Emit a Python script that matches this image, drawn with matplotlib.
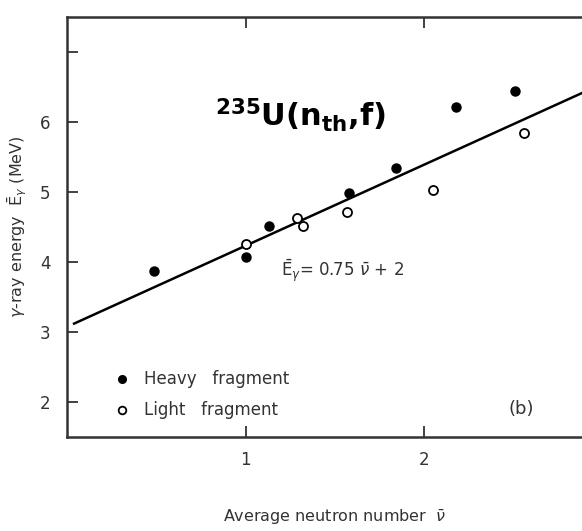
import matplotlib.pyplot as plt

# heavy fragments (filled) and light fragments (open)
heavy_nu = [0.49, 1.00, 1.13, 1.58, 1.84, 2.18, 2.51]
heavy_e = [3.87, 4.07, 4.51, 4.99, 5.34, 6.21, 6.44]
light_nu = [1.00, 1.29, 1.32, 1.57, 2.05, 2.56]
light_e = [4.26, 4.63, 4.51, 4.71, 5.03, 5.84]

# fitted line as drawn
fit_nu = [0.04, 3.0]
fit_e = [3.12, 6.55]

yticks = [2, 3, 4, 5, 6]

fig = plt.figure(figsize=(5.82, 5.31), dpi=100)
ax = fig.add_axes([0.115, 0.177, 0.921, 0.791])

ax.plot(fit_nu, fit_e, color='black', lw=1.8)
ax.plot(heavy_nu, heavy_e, 'o', color='black', ms=6.5)
ax.plot(light_nu, light_e, 'o', mfc='white', mec='black', mew=1.3, ms=6.5)

ax.set_xlim(0, 3)
ax.set_ylim(1.5, 7.5)
ax.set_xticks([1, 2])
ax.set_xticklabels(['1', '2'])
ax.set_yticks([2, 3, 4, 5, 6, 7])
ax.set_yticklabels([str(t) for t in yticks] + [''])
ax.tick_params(direction='in', length=8, width=1.3, labelsize=12, top=True,
               colors='#333333')
ax.tick_params(axis='x', pad=10)
ax.tick_params(axis='y', pad=12)
for s in ax.spines.values():
    s.set_linewidth(1.8)
    s.set_color('#333333')

ax.set_xlabel(r'Average neutron number  $\bar{\nu}$', fontsize=11.5, color='#333333',
              labelpad=28)
ax.set_ylabel(r'$\gamma$-ray energy  $\bar{\mathrm{E}}_{\gamma}$ (MeV)', fontsize=11.5,
              color='#333333', labelpad=8)

ax.text(0.83, 6.1, r'$^{\mathbf{235}}$U(n$_{\mathbf{th}}$,f)', fontsize=22,
        fontweight='bold', ha='left', va='center')
ax.text(1.2, 3.88, r'$\bar{\mathrm{E}}_{\gamma}$= 0.75 $\bar{\nu}$ + 2', fontsize=12,
        color='#333333', ha='left', va='center')

ax.plot([0.31], [2.33], 'o', color='black', ms=5.5)
ax.plot([0.31], [1.88], 'o', mfc='white', mec='black', mew=1.3, ms=5.5)
ax.text(0.43, 2.33, 'Heavy   fragment', fontsize=12, color='#333333', va='center')
ax.text(0.43, 1.88, 'Light   fragment', fontsize=12, color='#333333', va='center')
ax.text(2.47, 1.9, '(b)', fontsize=13, color='#333333', va='center')

fig.savefig('out.png', dpi=100)
